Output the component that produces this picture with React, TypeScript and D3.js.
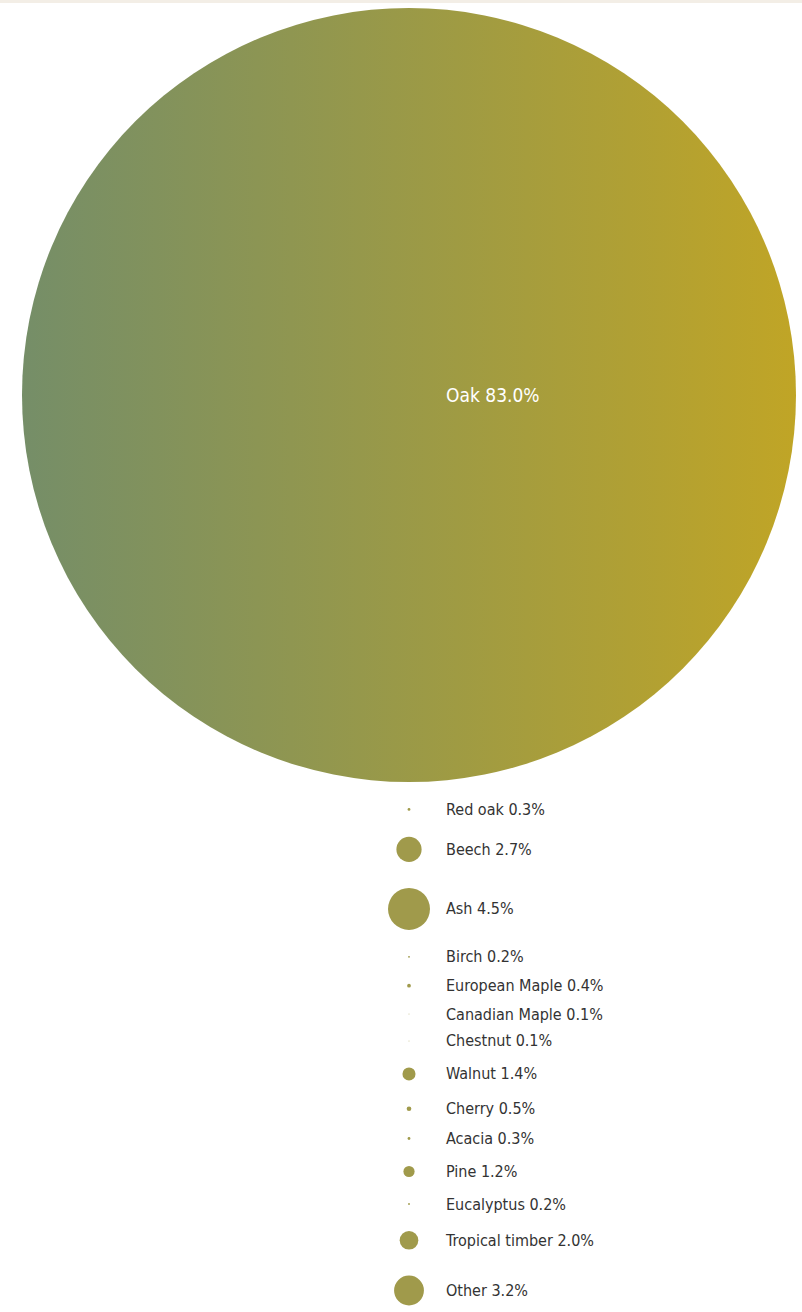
import React from "react";
import * as d3 from "d3";

const categories: string[] = [
  "Oak", "Red oak", "Beech", "Ash", "Birch", "European Maple", "Canadian Maple",
  "Chestnut", "Walnut", "Cherry", "Acacia", "Pine", "Eucalyptus", "Tropical timber", "Other",
];
const shares: number[] = [83.0, 0.3, 2.7, 4.5, 0.2, 0.4, 0.1, 0.1, 1.4, 0.5, 0.3, 1.2, 0.2, 2.0, 3.2];

const W = 802;
const H = 1312;
const CX = 409;
const TOP = 8;
const GAP = 26;
const LABEL_X = 446;

export default function App() {
  const rScale = d3.scaleLinear().domain([0, 83]).range([0, 387]);
  const fmt = d3.format(".1f");

  const items: { name: string; v: number; r: number; cy: number }[] = [];
  let y = TOP;
  categories.forEach((name, i) => {
    const v = shares[i];
    const r = rScale(v);
    if (i > 0) y += GAP;
    const cy = y + r;
    y = cy + r;
    items.push({ name, v, r, cy });
  });

  return (
    <svg
      width={W}
      height={H}
      style={{ position: "absolute", left: 0, top: 0, background: "#ffffff" }}
    >
      <defs>
        <linearGradient id="oakGrad" x1="0" x2="1" y1="0" y2="0">
          <stop offset="0%" stopColor="#758e68" />
          <stop offset="100%" stopColor="#c0a526" />
        </linearGradient>
      </defs>
      <rect x={0} y={0} width={W} height={3} fill="#f3eee6" />
      {items.map((d, i) => (
        <g key={d.name}>
          <circle
            cx={CX}
            cy={d.cy}
            r={d.r}
            fill={i === 0 ? "url(#oakGrad)" : "#a09a4b"}
          />
          <text
            x={LABEL_X}
            y={d.cy}
            dominantBaseline="central"
            fill={i === 0 ? "#ffffff" : "#333333"}
            fontFamily="'Liberation Sans Narrow', 'DejaVu Sans Condensed', sans-serif"
            fontSize={i === 0 ? 19 : 16}
          >
            {`${d.name} ${fmt(d.v)}%`}
          </text>
        </g>
      ))}
    </svg>
  );
}
